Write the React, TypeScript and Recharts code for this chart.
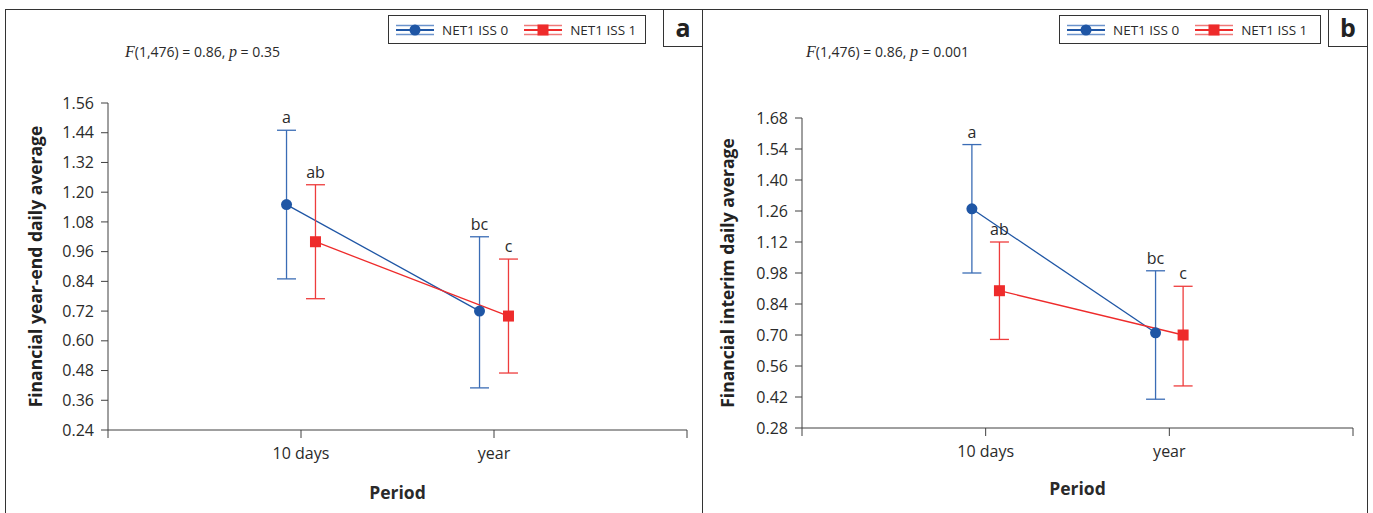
import React from 'react';
import { ComposedChart, Line, XAxis, YAxis, ErrorBar, LabelList } from 'recharts';

const periods = ['10 days', 'year'];
const seriesNames = ['NET1 ISS 0', 'NET1 ISS 1'];
const xTicks = [0, 1, 2, 3];

// panel a - financial year-end daily average
const yearEndIss0 = [1.15, 0.72];
const yearEndIss0Low = [0.85, 0.41];
const yearEndIss0High = [1.45, 1.02];
const yearEndIss1 = [1.0, 0.7];
const yearEndIss1Low = [0.77, 0.47];
const yearEndIss1High = [1.23, 0.93];
const yearEndTicks = [0.24, 0.36, 0.48, 0.6, 0.72, 0.84, 0.96, 1.08, 1.2, 1.32, 1.44, 1.56];

// panel b - financial interim daily average
const interimIss0 = [1.27, 0.71];
const interimIss0Low = [0.98, 0.41];
const interimIss0High = [1.56, 0.99];
const interimIss1 = [0.9, 0.7];
const interimIss1Low = [0.68, 0.47];
const interimIss1High = [1.12, 0.92];
const interimTicks = [0.28, 0.42, 0.56, 0.7, 0.84, 0.98, 1.12, 1.26, 1.4, 1.54, 1.68];

const iss0Letters = ['a', 'bc'];
const iss1Letters = ['ab', 'c'];

const BLUE = '#1f56a5';
const BLUE_BAR = '#3a6cb5';
const RED = '#ee2b2b';
const RED_BAR = '#ee3c3c';
const AXIS = '#404040';
const TEXT = '#2a2a2a';
const FONT = '"Open Sans", sans-serif';
const DODGE = 0.075;

function buildSeries(mean: number[], low: number[], high: number[], letters: string[], shift: number) {
  return mean.map((v, i) => ({
    x: i + 1 + shift,
    y: v,
    err: [v - low[i], high[i] - v],
    top: high[i],
    letter: letters[i],
  }));
}

const circleDot = (props: any) => {
  const { cx, cy, index } = props;
  if (cx == null || cy == null) return <g key={`c${index}`} />;
  return <circle key={`c${index}`} cx={cx} cy={cy} r={5.5} fill={BLUE} />;
};

const squareDot = (props: any) => {
  const { cx, cy, index } = props;
  if (cx == null || cy == null) return <g key={`s${index}`} />;
  return <rect key={`s${index}`} x={cx - 5.5} y={cy - 5.5} width={11} height={11} fill={RED} />;
};

function LegendIcon({ color, light, square }: { color: string; light: string; square?: boolean }) {
  return (
    <svg width={38} height={14} style={{ display: 'block' }}>
      <line x1={0} x2={38} y1={2.5} y2={2.5} stroke={light} strokeWidth={1.5} />
      <line x1={0} x2={38} y1={7} y2={7} stroke={color} strokeWidth={1.8} />
      <line x1={0} x2={38} y1={11.5} y2={11.5} stroke={light} strokeWidth={1.5} />
      {square ? <rect x={13.5} y={1.5} width={11} height={11} fill={RED} /> : <circle cx={19} cy={7} r={5.5} fill={BLUE} />}
    </svg>
  );
}

function Legend({ left, width }: { left: number; width: number }) {
  return (
    <div
      style={{
        position: 'absolute', left, top: 15, width, height: 29, border: '1px solid #333', boxSizing: 'border-box',
        display: 'flex', alignItems: 'center', fontSize: 13.5, color: TEXT, background: '#fff',
      }}
    >
      <div style={{ marginLeft: 7 }}><LegendIcon color={BLUE} light="#6b93cc" /></div>
      <span style={{ marginLeft: 8 }}>{seriesNames[0]}</span>
      <div style={{ marginLeft: 16 }}><LegendIcon color={RED} light="#f07878" square /></div>
      <span style={{ marginLeft: 8 }}>{seriesNames[1]}</span>
    </div>
  );
}

interface PanelProps {
  left: number;
  width: number;
  margin: { top: number; right: number; bottom: number; left: number };
  yWidth: number;
  ticks: number[];
  yLabel: string;
  yLabelX: number;
  xLabelDy: number;
  iss0: number[]; iss0Low: number[]; iss0High: number[];
  iss1: number[]; iss1Low: number[]; iss1High: number[];
}

function Panel(p: PanelProps) {
  const s0 = buildSeries(p.iss0, p.iss0Low, p.iss0High, iss0Letters, -DODGE);
  const s1 = buildSeries(p.iss1, p.iss1Low, p.iss1High, iss1Letters, DODGE);
  const domain = [p.ticks[0], p.ticks[p.ticks.length - 1]];
  return (
    <div style={{ position: 'absolute', left: p.left, top: 0 }}>
      <ComposedChart width={p.width} height={513} margin={p.margin}>
        <XAxis
          type="number" dataKey="x" domain={[0, 3]} ticks={xTicks}
          tickFormatter={(v: number) => periods[v - 1] ?? ''}
          height={30} tickSize={8} tickMargin={10}
          stroke={AXIS} tick={{ fill: TEXT, fontSize: 16 }}
          label={(props: any) => {
            const vb = props.viewBox;
            return (
              <text x={vb.x + vb.width / 2} y={vb.y + p.xLabelDy} textAnchor="middle" dominantBaseline="central"
                fontWeight="bold" fontSize={17.5} fill={TEXT}>Period</text>
            );
          }}
        />
        <YAxis
          type="number" domain={domain} ticks={p.ticks} width={p.yWidth}
          tickFormatter={(v: number) => v.toFixed(2)}
          tickSize={7} tickMargin={7} stroke={AXIS} tick={{ fill: TEXT, fontSize: 16 }}
          label={(props: any) => {
            const vb = props.viewBox;
            const cy = vb.y + vb.height / 2;
            return (
              <text x={p.yLabelX} y={cy} textAnchor="middle" dominantBaseline="central"
                transform={`rotate(-90 ${p.yLabelX} ${cy})`} fontWeight="bold" fontSize={17.5} fill="#222">{p.yLabel}</text>
            );
          }}
        />
        <Line data={s0} dataKey="y" stroke={BLUE} strokeWidth={1.3} dot={circleDot} isAnimationActive={false}>
          <ErrorBar dataKey="err" direction="y" width={9.5} stroke={BLUE_BAR} strokeWidth={1.3} />
        </Line>
        <Line data={s1} dataKey="y" stroke={RED} strokeWidth={1.3} dot={squareDot} isAnimationActive={false}>
          <ErrorBar dataKey="err" direction="y" width={9.5} stroke={RED_BAR} strokeWidth={1.3} />
        </Line>
        <Line data={s0} dataKey="top" stroke="none" dot={false} legendType="none" isAnimationActive={false}>
          <LabelList dataKey="letter" position="top" offset={7} fill={TEXT} fontSize={16} />
        </Line>
        <Line data={s1} dataKey="top" stroke="none" dot={false} legendType="none" isAnimationActive={false}>
          <LabelList dataKey="letter" position="top" offset={7} fill={TEXT} fontSize={16} />
        </Line>
      </ComposedChart>
    </div>
  );
}

function StatText({ left, p }: { left: number; p: string }) {
  return (
    <div style={{ position: 'absolute', left, top: 43, fontSize: 14, lineHeight: '18px', color: TEXT, whiteSpace: 'nowrap' }}>
      <i style={{ fontFamily: '"Liberation Serif", serif', fontSize: 16 }}>F</i>(1,476) = 0.86,{' '}
      <i style={{ fontFamily: '"Liberation Serif", serif', fontSize: 16 }}>p</i> = {p}
    </div>
  );
}

function PanelTag({ left, text }: { left: number; text: string }) {
  return (
    <div
      style={{
        position: 'absolute', left, top: 9, width: 39, height: 38, boxSizing: 'border-box',
        borderLeft: '1px solid #333', borderBottom: '1px solid #333',
        display: 'flex', alignItems: 'center', justifyContent: 'center',
        fontWeight: 'bold', fontSize: 25, color: '#222', lineHeight: 1,
      }}
    >
      {text}
    </div>
  );
}

export default function App() {
  return (
    <div style={{ position: 'absolute', left: 0, top: 0, width: 1373, height: 513, overflow: 'hidden', background: '#fff', fontFamily: FONT }}>
      <div style={{ position: 'absolute', left: 5, top: 9, width: 698, height: 560, border: '1px solid #333', boxSizing: 'border-box' }} />
      <div style={{ position: 'absolute', left: 702, top: 9, width: 666, height: 560, border: '1px solid #333', boxSizing: 'border-box' }} />
      <PanelTag left={663} text="a" />
      <PanelTag left={1328} text="b" />
      <Legend left={388} width={258} />
      <Legend left={1059} width={262} />
      <StatText left={125} p="0.35" />
      <StatText left={806} p="0.001" />
      <Panel
        left={0} width={700} margin={{ top: 103, right: 13, bottom: 53, left: 0 }} yWidth={108}
        ticks={yearEndTicks} yLabel="Financial year-end daily average" yLabelX={35} xLabelDy={62}
        iss0={yearEndIss0} iss0Low={yearEndIss0Low} iss0High={yearEndIss0High}
        iss1={yearEndIss1} iss1Low={yearEndIss1Low} iss1High={yearEndIss1High}
      />
      <Panel
        left={700} width={670} margin={{ top: 118, right: 17, bottom: 55, left: 0 }} yWidth={102}
        ticks={interimTicks} yLabel="Financial interim daily average" yLabelX={27} xLabelDy={60}
        iss0={interimIss0} iss0Low={interimIss0Low} iss0High={interimIss0High}
        iss1={interimIss1} iss1Low={interimIss1Low} iss1High={interimIss1High}
      />
    </div>
  );
}
